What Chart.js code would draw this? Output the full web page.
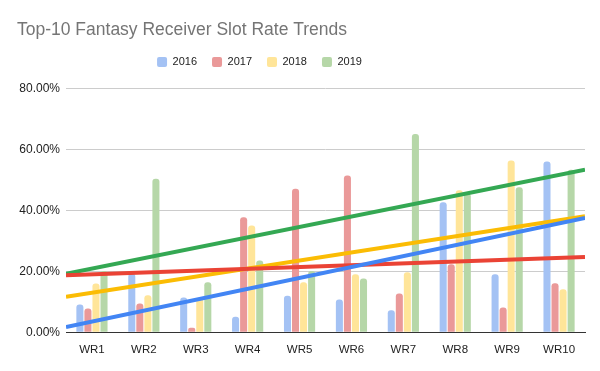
<!DOCTYPE html>
<html>
<head>
<meta charset="utf-8">
<script src="https://cdn.jsdelivr.net/npm/chart.js@4"></script>
<style>
  html, body { margin: 0; padding: 0; background: #fff; }
  #wrap { width: 600px; height: 371px; }
</style>
</head>
<body>
<div id="wrap"><canvas id="chart" width="600" height="371"></canvas></div>
<script>
// slot rate (%) per receiver rank
const labels = ['WR1', 'WR2', 'WR3', 'WR4', 'WR5', 'WR6', 'WR7', 'WR8', 'WR9', 'WR10'];
const years = ['2016', '2017', '2018', '2019'];
const rate2016 = [9.1, 19.2, 11.4, 5.1, 12.0, 10.7, 7.2, 42.7, 19.0, 56.0];
const rate2017 = [7.8, 9.4, 1.5, 37.7, 47.1, 51.4, 12.7, 22.3, 8.1, 16.1];
const rate2018 = [16.0, 12.1, 11.0, 35.0, 16.4, 19.0, 19.7, 46.6, 56.4, 14.1];
const rate2019 = [20.1, 50.4, 16.4, 23.5, 20.1, 17.6, 65.1, 45.5, 47.6, 53.3];
// trendline values at the left and right edge of the plot
const trendStart = [1.7, 18.7, 11.6, 19.2];
const trendEnd = [37.5, 24.7, 38.1, 53.3];
const yTicks = [0, 20, 40, 60, 80];

const barColors = ['#a4c2f4', '#ea9999', '#ffe599', '#b6d7a8'];
const lineColors = ['#4285f4', '#ea4335', '#fbbc04', '#34a853'];
const series = [rate2016, rate2017, rate2018, rate2019];

// categories sit at 1..10 on a linear x axis so the trendlines can run edge to edge
const datasets = [];
years.forEach((y, i) => {
    datasets.push({
        type: 'line',
        label: 'trend ' + y,
        data: [{ x: 0.5, y: trendStart[i] }, { x: labels.length + 0.5, y: trendEnd[i] }],
        borderColor: lineColors[i],
        borderWidth: 4,
        pointRadius: 0,
        order: 0
    });
});
years.forEach((y, i) => {
    datasets.push({
        type: 'bar',
        label: y,
        data: series[i].map((v, j) => ({ x: j + 1, y: v })),
        backgroundColor: barColors[i],
        borderRadius: { topLeft: 3, topRight: 3 },
        borderSkipped: 'bottom',
        categoryPercentage: 0.62,
        barPercentage: 0.875,
        order: 1
    });
});

// legend sits a bit left of centre and has extra room under it
const legendTweak = {
    id: 'legendTweak',
    beforeLayout(chart) {
        const lg = chart.legend;
        if (lg && !lg._tweaked) {
            const fit = lg.fit;
            lg.fit = function () { fit.call(this); this.height += 11; };
            lg._tweaked = true;
        }
    },
    afterLayout(chart) {
        chart.legend.right = 502;
    }
};

const font = { family: 'Arial, Liberation Sans', size: 12 };

new Chart(document.getElementById('chart'), {
    type: 'bar',
    data: { datasets: datasets },
    plugins: [legendTweak],
    options: {
        responsive: false,
        animation: false,
        layout: { padding: { left: 17, right: 15, top: 0, bottom: 11 } },
        plugins: {
            title: {
                display: true,
                text: 'Top-10 Fantasy Receiver Slot Rate Trends',
                align: 'start',
                color: '#757575',
                font: { family: 'Arial, Liberation Sans', size: 17.5, weight: 'normal' },
                padding: { top: 19.5, bottom: 1 }
            },
            legend: {
                labels: {
                    filter: item => !item.text.startsWith('trend'),
                    boxWidth: 10,
                    boxHeight: 10,
                    color: '#222',
                    font: { family: 'Arial, Liberation Sans', size: 11 },
                    padding: 15,
                    useBorderRadius: true,
                    borderRadius: 2
                }
            },
            tooltip: { enabled: false }
        },
        scales: {
            x: {
                type: 'linear',
                min: 0.5,
                max: labels.length + 0.5,
                offset: false,
                afterBuildTicks: axis => { axis.ticks = labels.map((l, j) => ({ value: j + 1 })); },
                grid: { display: false },
                border: { color: '#333', width: 1 },
                ticks: {
                    color: '#222',
                    font: { family: 'Arial, Liberation Sans', size: 11.5 },
                    padding: 3,
                    autoSkip: false,
                    maxRotation: 0,
                    callback: v => labels[v - 1]
                }
            },
            y: {
                min: 0,
                max: 80,
                afterBuildTicks: axis => { axis.ticks = yTicks.map(v => ({ value: v })); },
                afterFit: axis => { axis.width = 49; },
                grid: { color: '#cccccc', drawTicks: false },
                border: { display: false },
                ticks: {
                    color: '#222',
                    font: font,
                    padding: 6,
                    callback: v => v.toFixed(2) + '%'
                }
            }
        }
    }
});
</script>
</body>
</html>
